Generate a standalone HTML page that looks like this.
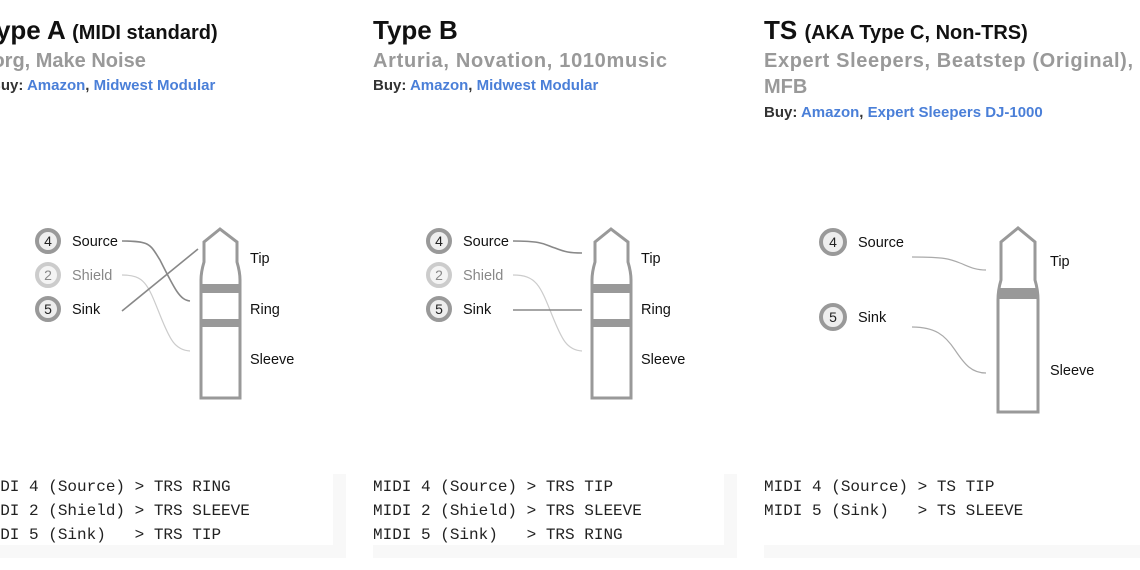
<!DOCTYPE html>
<html><head><meta charset="utf-8"><style>
html,body{margin:0;padding:0;background:#fff;width:1140px;height:570px;overflow:hidden}
svg{display:block;font-family:"Liberation Sans",sans-serif}
.t{font-size:26px;font-weight:bold;fill:#111}
.ts{font-size:20px;font-weight:bold;fill:#111}
.g{font-size:20px;font-weight:bold;fill:#999}
.b{font-size:15px;font-weight:bold;fill:#333}
.l{fill:#4a7fd8}
.lab{font-size:14.5px;fill:#111}
.num{font-size:14px;fill:#222;text-anchor:middle}
.m{font-family:"Liberation Mono",monospace;font-size:16px;fill:#222}
.jack{fill:none;stroke:#999;stroke-width:3}
.band{fill:#999}
.w{fill:none;stroke:#888;stroke-width:1.6}
.wl{fill:none;stroke:#ccc;stroke-width:1.2}
</style></head><body>
<svg width="1140" height="570" viewBox="0 0 1140 570">
<defs>
<g id="jack3">
<path class="jack" d="M201 398 L201 280 Q201 272 204 262 L204 242 L220 229 L237 242 L237 262 Q240 272 240 280 L240 398 Z"/>
<rect class="band" x="201" y="284" width="39" height="9"/>
<rect class="band" x="201" y="319" width="39" height="8"/>
</g>
</defs>
<rect x="0" y="474" width="346" height="84" fill="#f8f8f8"/>
<rect x="0" y="474" width="333" height="71" fill="#fff"/>
<rect x="373" y="474" width="364" height="84" fill="#f8f8f8"/>
<rect x="373" y="474" width="351" height="71" fill="#fff"/>
<rect x="764" y="474" width="376" height="84" fill="#f8f8f8"/>
<rect x="764" y="474" width="376" height="71" fill="#fff"/>

<text x="-18" y="39"><tspan class="t">Type A </tspan><tspan class="ts">(MIDI standard)</tspan></text>
<text class="g" x="-22" y="67">Korg, Make Noise</text>
<text class="b" x="-10" y="90">Buy: <tspan class="l">Amazon</tspan>, <tspan class="l">Midwest Modular</tspan></text>
<text x="373" y="39" class="t">Type B</text>
<text class="g" x="373" y="67" textLength="294">Arturia, Novation, 1010music</text>
<text class="b" x="373" y="90">Buy: <tspan class="l">Amazon</tspan>, <tspan class="l">Midwest Modular</tspan></text>
<text x="764" y="39"><tspan class="t">TS </tspan><tspan class="ts">(AKA Type C, Non-TRS)</tspan></text>
<text class="g" x="764" y="67" textLength="369">Expert Sleepers, Beatstep (Original),</text>
<text class="g" x="764" y="93">MFB</text>
<text class="b" x="764" y="117">Buy: <tspan class="l">Amazon</tspan>, <tspan class="l">Expert Sleepers DJ-1000</tspan></text>

<use href="#jack3"/>
<circle cx="48" cy="241" r="11" fill="#eee" stroke="#999" stroke-width="4"/><text class="num" x="48" y="246">4</text>
<circle cx="48" cy="275" r="11" fill="#f4f4f4" stroke="#ccc" stroke-width="4"/><text class="num" x="48" y="280" style="fill:#888">2</text>
<circle cx="48" cy="309" r="11" fill="#eee" stroke="#999" stroke-width="4"/><text class="num" x="48" y="314">5</text>
<text class="lab" x="72" y="246">Source</text>
<text class="lab" x="72" y="280" style="fill:#888">Shield</text>
<text class="lab" x="72" y="314">Sink</text>
<text class="lab" x="250" y="263">Tip</text>
<text class="lab" x="250" y="314">Ring</text>
<text class="lab" x="250" y="364">Sleeve</text>
<path class="w" d="M122 241 C150 241 150 244 160 260 C175 290 180 300 190 301"/>
<path class="wl" d="M122 275 C145 275 148 285 160 315 C170 340 175 350 190 351"/>
<path class="w" d="M122 311 L198 249"/>

<use href="#jack3" x="391"/>
<circle cx="439" cy="241" r="11" fill="#eee" stroke="#999" stroke-width="4"/><text class="num" x="439" y="246">4</text>
<circle cx="439" cy="275" r="11" fill="#f4f4f4" stroke="#ccc" stroke-width="4"/><text class="num" x="439" y="280" style="fill:#888">2</text>
<circle cx="439" cy="309" r="11" fill="#eee" stroke="#999" stroke-width="4"/><text class="num" x="439" y="314">5</text>
<text class="lab" x="463" y="246">Source</text>
<text class="lab" x="463" y="280" style="fill:#888">Shield</text>
<text class="lab" x="463" y="314">Sink</text>
<text class="lab" x="641" y="263">Tip</text>
<text class="lab" x="641" y="314">Ring</text>
<text class="lab" x="641" y="364">Sleeve</text>
<path class="w" d="M513 241 C545 241 545 245 555 248 C565 252 570 253 582 253"/>
<path class="wl" d="M513 275 C536 275 540 285 552 315 C562 340 567 350 582 351"/>
<path class="w" d="M513 310 L582 310"/>

<path class="jack" d="M998 412 L998 300 Q998 290 1001 280 L1001 242 L1018 228 L1035 242 L1035 280 Q1038 290 1038 300 L1038 412 Z"/>
<rect class="band" x="998" y="288" width="40" height="11"/>
<circle cx="833" cy="242" r="12" fill="#eee" stroke="#999" stroke-width="4"/><text class="num" x="833" y="247">4</text>
<circle cx="833" cy="317" r="12" fill="#eee" stroke="#999" stroke-width="4"/><text class="num" x="833" y="322">5</text>
<text class="lab" x="858" y="247">Source</text>
<text class="lab" x="858" y="322">Sink</text>
<text class="lab" x="1050" y="266">Tip</text>
<text class="lab" x="1050" y="375">Sleeve</text>
<path class="wl" style="stroke:#aaa" d="M912 257 C945 257 950 259 960 263 C970 267 975 270 986 270"/>
<path class="wl" style="stroke:#aaa" d="M912 327 C935 327 945 335 955 350 C965 365 972 373 986 373"/>

<text class="m" x="-19" y="491" xml:space="preserve">MIDI 4 (Source) &gt; TRS RING</text>
<text class="m" x="-19" y="515" xml:space="preserve">MIDI 2 (Shield) &gt; TRS SLEEVE</text>
<text class="m" x="-19" y="539" xml:space="preserve">MIDI 5 (Sink)   &gt; TRS TIP</text>
<text class="m" x="373" y="491" xml:space="preserve">MIDI 4 (Source) &gt; TRS TIP</text>
<text class="m" x="373" y="515" xml:space="preserve">MIDI 2 (Shield) &gt; TRS SLEEVE</text>
<text class="m" x="373" y="539" xml:space="preserve">MIDI 5 (Sink)   &gt; TRS RING</text>
<text class="m" x="764" y="491" xml:space="preserve">MIDI 4 (Source) &gt; TS TIP</text>
<text class="m" x="764" y="515" xml:space="preserve">MIDI 5 (Sink)   &gt; TS SLEEVE</text>
</svg>
</body></html>
